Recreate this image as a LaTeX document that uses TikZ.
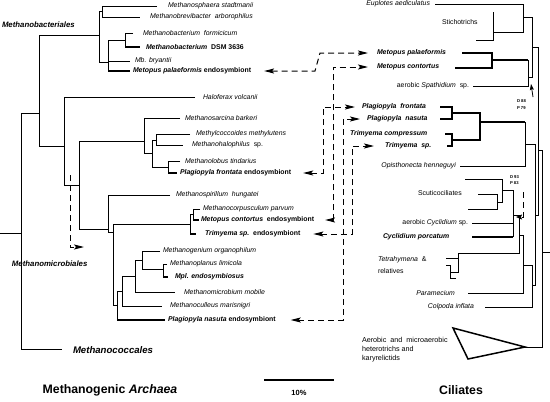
\documentclass[tikz,border=0pt]{standalone}
\usepackage{fontspec}
\setmainfont{Liberation Sans}
\usetikzlibrary{arrows.meta}
\begin{document}
\begin{tikzpicture}[x=1pt,y=-1pt,inner sep=0pt,outer sep=0pt,
>={Stealth[length=10pt,width=5pt,inset=2pt]},
tx/.style={anchor=west,font=\fontsize{6.9}{8}\selectfont},
txr/.style={anchor=east,font=\fontsize{6.9}{8}\selectfont},
grp/.style={anchor=west,font=\fontsize{7.8}{9}\selectfont\bfseries\itshape},
headline/.style={font=\fontsize{12.3}{14}\selectfont\bfseries},
supp/.style={anchor=west,font=\fontsize{4.2}{5}\selectfont\bfseries},
br/.style={line width=0.6pt},
endo/.style={line width=1.6pt},
clade/.style={line width=2.2pt},
link/.style={line width=1pt,dash pattern=on 6pt off 4pt}]
\useasboundingbox (0,0) rectangle (550,402);
% archaea tree
\draw[br] (0,233) -- (21,233);
\draw[br] (39,113) -- (21,113) -- (21,349) -- (62,349);
\draw[br] (99,35) -- (39,35) -- (39,146) -- (64,146);
\draw[br] (102,11) -- (99,11) -- (99,62) -- (108,62);
\draw[br] (157,6) -- (102,6) -- (102,17) -- (140,17);
\draw[br] (125,40) -- (108,40) -- (108,71);
\draw[br] (133,33) -- (125,33) -- (125,47);
\draw[line width=1.1pt] (125,47) -- (140,47);
\draw[br] (108,61) -- (130,61);
\draw[endo] (108,71) -- (130,71);
\draw[br] (195,97) -- (64,97) -- (64,185) -- (79,185);
\draw[br] (144,141) -- (79,141) -- (79,229) -- (108,229);
\draw[br] (180,118) -- (144,118) -- (144,153) -- (152,153);
\draw[br] (156,140) -- (152,140) -- (152,167) -- (168,167);
\draw[br] (190,134) -- (156,134) -- (156,145) -- (183,145);
\draw[br] (180,161) -- (168,161) -- (168,173);
\draw[endo] (168,173) -- (177,173);
\draw[br] (170,195) -- (108,195) -- (108,232) -- (113,232);
\draw[br] (190,224) -- (113,224) -- (113,305) -- (117,305);
\draw[br] (200,209) -- (193,209) -- (193,220);
\draw[endo] (193,220) -- (199,220);
\draw[br] (193,214) -- (190,214) -- (190,234);
\draw[endo] (190,234) -- (196,234);
\draw[br] (160,251) -- (142,251) -- (142,269) -- (163,269);
\draw[br] (167,264) -- (163,264) -- (163,277);
\draw[endo] (163,277) -- (168,277);
\draw[br] (142,260) -- (135,260) -- (135,292) -- (175,292);
\draw[br] (135,276) -- (122,276) -- (122,306) -- (162,306);
\draw[br] (122,291) -- (117,291) -- (117,320);
\draw[endo] (117,320) -- (165,320);
% archaea labels
\draw (2,25) node[grp] (mbact) {Methanobacteriales};
\draw (12,264) node[grp] (mmicr) {Methanomicrobiales};
\draw (73,350) node[grp,font=\fontsize{9.6}{11}\selectfont\bfseries\itshape] (mcocc) {Methanococcales};
\draw (168,6) node[tx] (msta) {\textit{Methanosphaera stadtmanii}};
\draw (150,17) node[tx] (marb) {\textit{Methanobrevibacter\ \ arborophilus}};
\draw (143,33) node[tx] (mfor) {\textit{Methanobacterium\ \ formicicum}};
\draw (146,47) node[tx] (mdsm) {\textbf{\textit{Methanobacterium}\ \ DSM 3636}};
\draw (135,61) node[tx] (mbry) {\textit{Mb. bryantii}};
\draw (133,71) node[tx] (mpE) {\textbf{\textit{Metopus palaeformis} endosymbiont}};
\draw (203,97) node[tx] (hvol) {\textit{Haloferax volcanii}};
\draw (185,118) node[tx] (mbar) {\textit{Methanosarcina barkeri}};
\draw (196,134) node[tx] (mmet) {\textit{Methylcoccoides methylutens}};
\draw (192,145) node[tx] (mhal) {\textit{Methanohalophilus}\ \ sp.};
\draw (185,161) node[tx] (mtin) {\textit{Methanolobus tindarius}};
\draw (180,173) node[tx] (pfE) {\textbf{\textit{Plagiopyla frontata} endosymbiont}};
\draw (176,195) node[tx] (mhun) {\textit{Methanospirillum\ \ hungatei}};
\draw (203,209) node[tx] (mpar) {\textit{Methanocorpusculum parvum}};
\draw (201,220) node[tx] (mcE) {\textbf{\textit{Metopus contortus}\ \ endosymbiont}};
\draw (205,234) node[tx] (tsE) {\textbf{\textit{Trimyema sp.}\ \ endosymbiont}};
\draw (163,251) node[tx] (morg) {\textit{Methanogenium organophilum}};
\draw (170,264) node[tx] (mlim) {\textit{Methanoplanus limicola}};
\draw (175,277) node[tx] (mplE) {\textbf{\textit{Mpl. endosymbiosus}}};
\draw (184,292) node[tx] (mmob) {\textit{Methanomicrobium mobile}};
\draw (170,306) node[tx] (mmar) {\textit{Methanoculleus marisnigri}};
\draw (168,320) node[tx] (pnE) {\textbf{\textit{Plagiopyla nasuta} endosymbiont}};
% ciliate tree
\draw[br] (435,4) -- (523,4) -- (523,32) -- (493,32);
\draw[br] (493,12) -- (493,40) -- (476,40);
\draw[br] (523,17) -- (532,17) -- (532,77) -- (528,77);
\draw[clade] (462,53) -- (492,53) -- (492,68) -- (455,68);
\draw[clade] (492,60) -- (528,60);
\draw[br] (528,60) -- (528,86) -- (473,86);
\draw[br] (532,47) -- (538,47) -- (538,215) -- (535,215);
\draw[clade] (440,107) -- (452,107) -- (452,119) -- (440,119);
\draw[clade] (452,113) -- (480,113) -- (480,140) -- (452,140);
\draw[clade] (445,134) -- (452,134) -- (452,146) -- (447,146);
\draw[clade] (480,122) -- (525,122);
\draw[br] (525,122) -- (525,166) -- (460,166);
\draw[br] (525,144) -- (535,144) -- (535,285) -- (532,285);
\draw[br] (465,179) -- (502,179) -- (502,202) -- (497,202);
\draw[br] (478,194) -- (497,194) -- (497,209) -- (468,209);
\draw[br] (502,190) -- (513,190) -- (513,237);
\draw[br] (472,223) -- (513,223);
\draw[clade] (472,237) -- (513,237);
\draw[br] (513,215) -- (519,215) -- (519,253) -- (458,253) -- (458,272) -- (450,272);
\draw[br] (446,258) -- (458,258);
\draw[br] (446,265) -- (450,265) -- (450,278) -- (456,278);
\draw[br] (519,235) -- (523,235) -- (523,293) -- (468,293);
\draw[br] (523,265) -- (532,265) -- (532,307) -- (485,307);
\draw[br] (538,150) -- (542,150) -- (542,347) -- (525,347);
\draw[br] (542,252) -- (550,252);
\draw[line width=1.5pt,line join=miter] (453,328) -- (525,347) -- (468,359) -- cycle;
% ciliate labels
\draw (430,4) node[txr] (eupl) {\textit{Euplotes aediculatus}};
\draw (442,22) node[tx] (stich) {Stichotrichs};
\draw (377,53) node[tx] (mp) {\textbf{\textit{Metopus palaeformis}}};
\draw (377,67) node[tx] (mc) {\textbf{\textit{Metopus contortus}}};
\draw (469,86) node[txr] (spat) {aerobic \textit{Spathidium}\ \ sp.};
\draw (517,101) node[supp] (d88) {D 88};
\draw (517,108) node[supp] (p79) {P 79};
\draw (362,107) node[tx] (pf) {\textbf{\textit{Plagiopyla\ \ frontata}}};
\draw (367,119) node[tx] (pn) {\textbf{\textit{Plagiopyla\ \ nasuta}}};
\draw (350,134) node[tx] (tc) {\textbf{\textit{Trimyema compressum}}};
\draw (385,146) node[tx] (ts) {\textbf{\textit{Trimyema\ \ sp.}}};
\draw (456,166) node[txr] (opis) {\textit{Opisthonecta henneguyi}};
\draw (510,177) node[supp] (d93) {D 93};
\draw (510,183) node[supp] (p83) {P 83};
\draw (418,193) node[tx] (scut) {Scuticociliates};
\draw (468,223) node[txr] (acyc) {aerobic \textit{Cyclidium} sp.};
\draw (383,237) node[tx] (cpor) {\textbf{\textit{Cyclidium porcatum}}};
\draw (378,260) node[tx] (tetr) {\textit{Tetrahymena}\ \ \&};
\draw (378,271) node[tx] (rel) {relatives};
\draw (455,293) node[txr] (para) {\textit{Paramecium}};
\draw (474,307) node[txr] (colp) {\textit{Colpoda inflata}};
\draw (362,350) node[tx,align=left,font=\fontsize{7.2}{9}\selectfont] (hetr) {Aerobic\ \ and\ \ microaerobic\\heterotrichs and\\karyrelictids};
% titles and scale
\draw (110,390) node[headline] (arch) {Methanogenic \textit{Archaea}};
\draw (461,390) node[headline] (cil) {Ciliates};
\coordinate (bar0) at (264,380);
\coordinate (bar1) at (334,380);
\draw[line width=2pt] (bar0) -- (bar1);
\draw (299,393) node[font=\fontsize{7.5}{9}\selectfont\bfseries] (pct) {10\%};
% host / endosymbiont links
\draw[link,<->] ([xshift=13pt]mpE.east) -- (315,71) -- (320,53) -- ([xshift=-9pt]mp.west);
\draw[link,<->] ([xshift=11pt]mcE.east) -| (333,67) -- ([xshift=-9pt]mc.west);
\draw[link,<->] ([xshift=12pt]pfE.east) -| (323,107) -- ([xshift=-7pt]pf.west);
\draw[link,<->] ([xshift=15pt]pnE.east) -| (343,119) -- ([xshift=-7pt]pn.west);
\draw[link,<->] ([xshift=13pt]tsE.east) -| (352,146) -- ([xshift=-11pt]ts.west);
\coordinate (mm0) at (70,175);
\coordinate (mm1) at (84,247);
\draw[link,->] (mm0) |- (mm1);
\coordinate (sp0) at (533,97);
\coordinate (sp1) at (531,84);
\draw[line width=0.8pt,-{Stealth[length=6pt,width=4pt,inset=1pt]}] (sp0) -- (sp1);
\coordinate (cy0) at (523,192);
\coordinate (cy1) at (516,217);
\draw[link,-{Stealth[length=6pt,width=5pt,inset=1pt]}] (cy0) |- (cy1);
\end{tikzpicture}
\end{document}
